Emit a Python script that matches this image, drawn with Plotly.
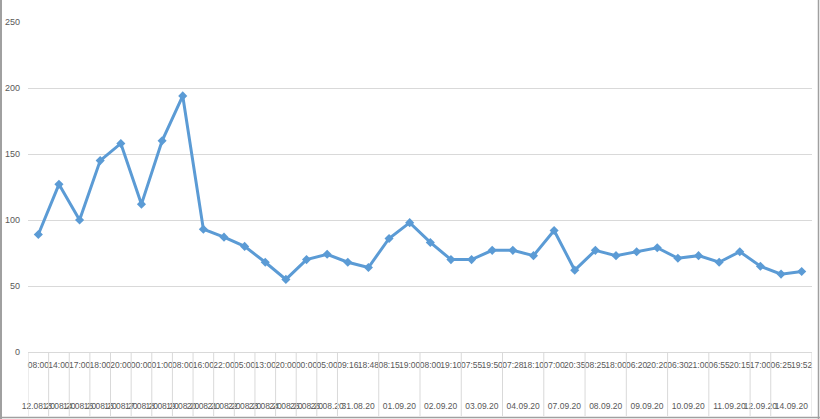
import plotly.graph_objects as go

dates = ["12.08.20", "13.08.20", "14.08.20", "15.08.20", "16.08.20", "17.08.20", "18.08.20",
         "19.08.20", "20.08.20", "21.08.20", "22.08.20", "23.08.20", "24.08.20", "25.08.20",
         "26.08.20",
         "31.08.20", "31.08.20", "01.09.20", "01.09.20", "02.09.20", "02.09.20",
         "03.09.20", "03.09.20", "04.09.20", "04.09.20", "07.09.20", "07.09.20",
         "08.09.20", "08.09.20", "09.09.20", "09.09.20", "10.09.20", "10.09.20",
         "11.09.20", "11.09.20", "12.09.20", "14.09.20", "14.09.20"]
times = ["08:00", "14:00", "17:00", "18:00", "20:00", "00:00", "01:00", "08:00", "16:00",
         "22:00", "05:00", "13:00", "20:00", "00:00", "05:00", "09:16", "18:48", "08:15",
         "19:00", "08:00", "19:10", "07:55", "19:50", "07:28", "18:10", "07:00", "20:35",
         "08:25", "18:00", "06:20", "20:20", "06:30", "21:00", "06:55", "20:15", "17:00",
         "06:25", "19:52"]
values = [89, 127, 100, 145, 158, 112, 160, 194, 93, 87, 80, 68, 55, 70, 74, 68, 64, 86,
          98, 83, 70, 70, 77, 77, 73, 92, 62, 77, 73, 76, 79, 71, 73, 68, 76, 65, 59, 61]

# group the points by date (consecutive identical dates)
groups = []  # (label, first index, last index)
for i, d in enumerate(dates):
    if groups and groups[-1][0] == d:
        groups[-1][2] = i
    else:
        groups.append([d, i, i])
group_centers = [(g[1] + g[2]) / 2 for g in groups]
group_labels = [g[0] for g in groups]
boundaries = [g[1] - 0.5 for g in groups] + [len(dates) - 0.5]

W, H = 820, 419
ML, MR, MT, MB = 28, 8, 22, 67
pw, ph = W - ML - MR, H - MT - MB
xpos = list(range(len(values)))
xr = [-0.5, len(values) - 0.5]

fig = go.Figure()
fig.add_trace(go.Scatter(
    x=xpos, y=values, mode="lines+markers",
    line=dict(color="#5B9BD5", width=3),
    marker=dict(symbol="diamond", size=7, color="#5B9BD5"),
    showlegend=False, hoverinfo="y",
))
# carrier for the date row axis
fig.add_trace(go.Scatter(
    x=xpos, y=values, xaxis="x2", mode="lines", opacity=0,
    line=dict(width=0), showlegend=False, hoverinfo="skip",
))

FONT = "Liberation Sans, Arial, sans-serif"
GRAY = "#595959"
GRID = "#D9D9D9"

shapes = []
for b in boundaries:
    shapes.append(dict(type="line", xref="x", yref="paper", x0=b, x1=b,
                       y0=0, y1=-(MB - 3) / ph, line=dict(color=GRID, width=1)))
shapes += [
    dict(type="line", xref="paper", yref="paper",
         x0=-(ML - 1) / pw, x1=-(ML - 1) / pw, y0=-MB / ph, y1=1 + MT / ph,
         line=dict(color="#A0A0A0", width=2)),
    dict(type="line", xref="paper", yref="paper",
         x0=1 + (MR - 1.5) / pw, x1=1 + (MR - 1.5) / pw, y0=-MB / ph, y1=1 + MT / ph,
         line=dict(color="#A0A0A0", width=1.5)),
    dict(type="line", xref="paper", yref="paper",
         x0=-ML / pw, x1=1 + MR / pw, y0=-(MB - 1.5) / ph, y1=-(MB - 1.5) / ph,
         line=dict(color="#A0A0A0", width=1.5)),
]

fig.update_layout(
    width=W, height=H,
    margin=dict(l=ML, r=MR, t=MT, b=MB, autoexpand=False),
    paper_bgcolor="white", plot_bgcolor="white",
    font=dict(family=FONT, size=9, color=GRAY),
    xaxis=dict(
        range=xr, tickmode="array", tickvals=xpos, ticktext=times,
        showgrid=False, zeroline=False,
        showline=True, linecolor=GRID, linewidth=1,
        ticks="", tickangle=0, ticklabelstandoff=5,
        tickfont=dict(family=FONT, size=8.5, color=GRAY),
        automargin=False,
    ),
    xaxis2=dict(
        overlaying="x", anchor="free", position=0, side="bottom",
        range=xr, tickmode="array", tickvals=group_centers, ticktext=group_labels,
        showgrid=False, zeroline=False, showline=False,
        ticks="", tickangle=0, ticklabelstandoff=47,
        tickfont=dict(family=FONT, size=8.5, color=GRAY),
        automargin=False,
    ),
    yaxis=dict(
        range=[0, 250], dtick=50, tick0=0,
        showgrid=True, gridcolor=GRID, gridwidth=1,
        zeroline=False, showline=False,
        tickfont=dict(family=FONT, size=9, color=GRAY),
        ticks="", ticklabelstandoff=7,
        automargin=False,
    ),
    shapes=shapes,
)

fig.write_html("out.html", config={"displayModeBar": False},
               post_script="document.body.style.margin='0px';")
